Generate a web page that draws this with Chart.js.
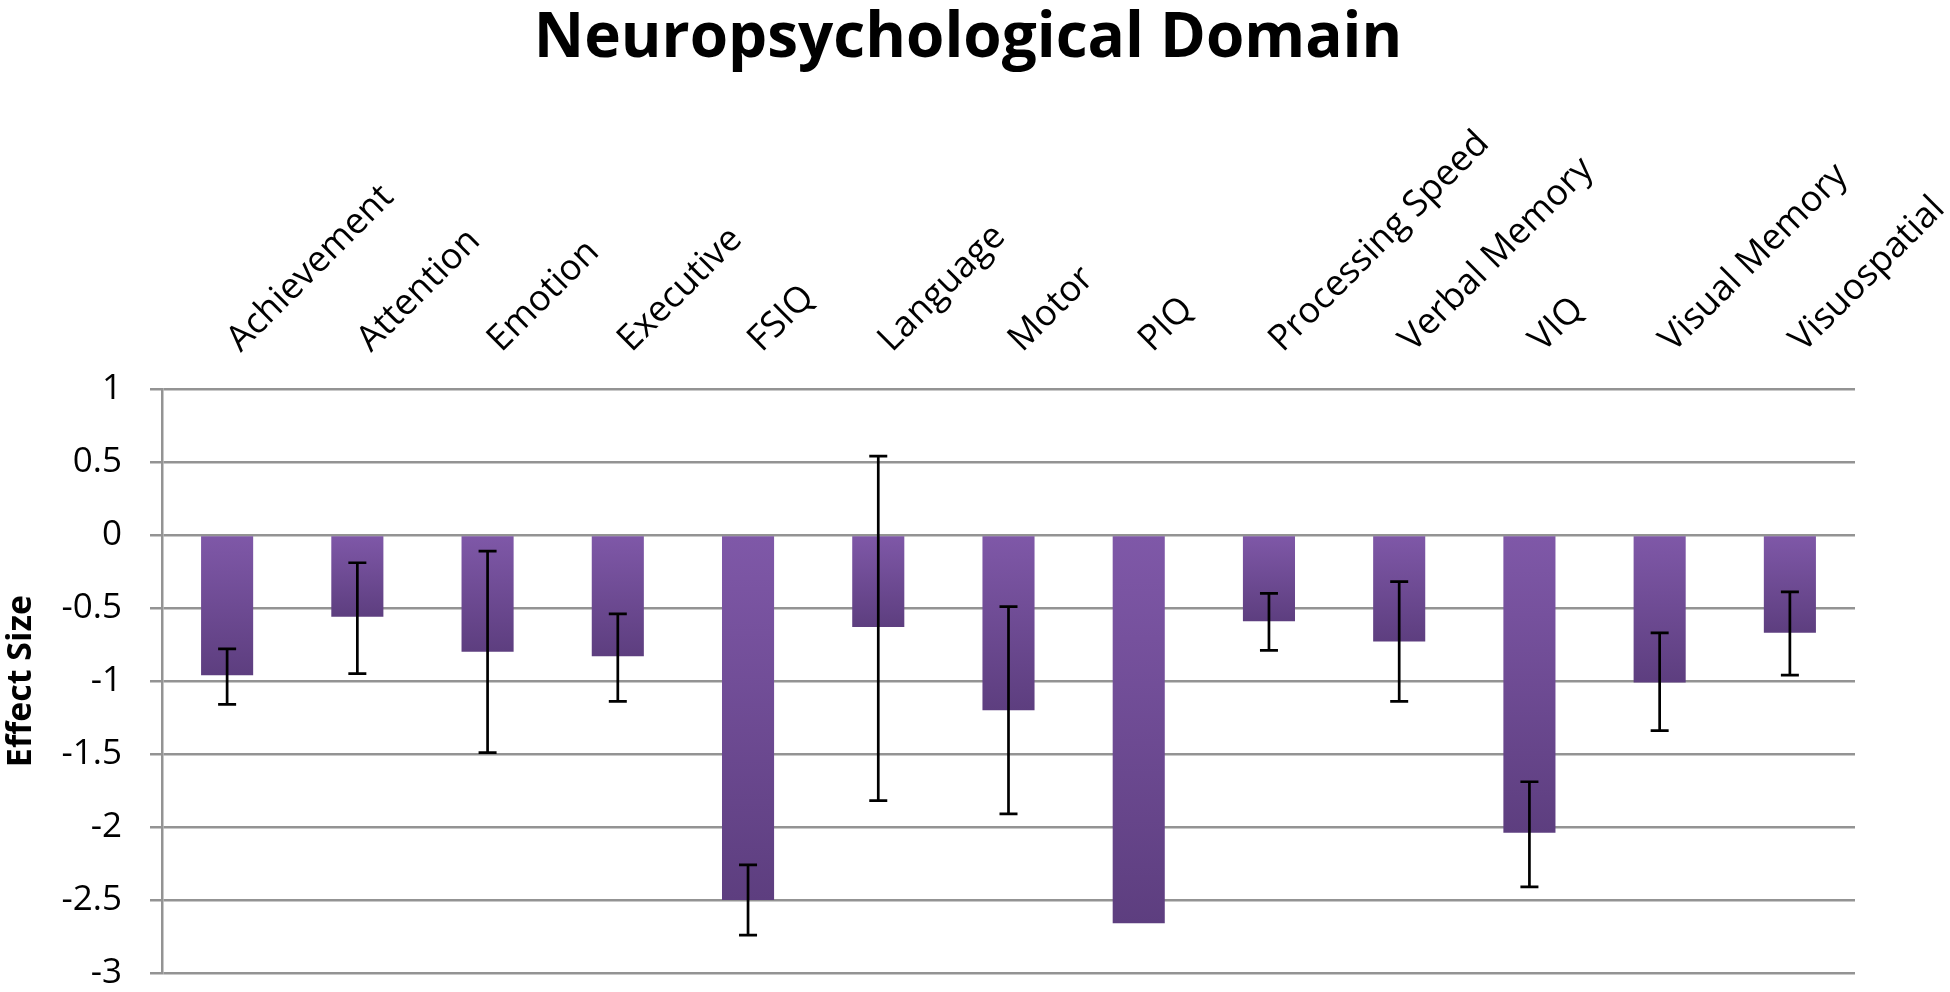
<!DOCTYPE html>
<html>
<head>
<meta charset="utf-8">
<title>Neuropsychological Domain</title>
<script src="https://cdn.jsdelivr.net/npm/chart.js@4.4.1/dist/chart.umd.min.js"></script>
<style>
  html, body { margin: 0; padding: 0; background: #fff; overflow: hidden; }
  #wrap { position: relative; width: 1950px; height: 992px; }
</style>
</head>
<body>
<div id="wrap"><canvas id="out"></canvas></div>
<script>
const chartTitle = "Neuropsychological Domain";
const categories = ["Achievement", "Attention", "Emotion", "Executive", "FSIQ", "Language", "Motor",
  "PIQ", "Processing Speed", "Verbal Memory", "VIQ", "Visual Memory", "Visuospatial"];
const effectSize = [-0.96, -0.56, -0.80, -0.83, -2.50, -0.63, -1.20, -2.66, -0.59, -0.73, -2.04, -1.01, -0.67];
// confidence interval ends (PIQ has none)
const ciLow  = [-1.16, -0.95, -1.49, -1.14, -2.74, -1.82, -1.91, null, -0.79, -1.14, -2.41, -1.34, -0.96];
const ciHigh = [-0.78, -0.19, -0.11, -0.54, -2.26, 0.54, -0.49, null, -0.40, -0.32, -1.69, -0.67, -0.39];

const gridGray = "#939393";

// each bar gets its own light-to-dark vertical gradient
function barFill(ctx) {
  const chart = ctx.chart;
  if (!chart.chartArea || ctx.dataIndex === undefined) return "#7e57a6";
  const y = chart.scales.y;
  const y0 = y.getPixelForValue(0);
  const y1 = y.getPixelForValue(effectSize[ctx.dataIndex]);
  const g = chart.ctx.createLinearGradient(0, y0, 0, y1 === y0 ? y0 + 1 : y1);
  g.addColorStop(0, "#7f58a8");
  g.addColorStop(1, "#5d3e7f");
  return g;
}

const errorBars = {
  id: "errorBars",
  afterDatasetsDraw(chart) {
    const meta = chart.getDatasetMeta(0);
    const y = chart.scales.y;
    const c = chart.ctx;
    c.save();
    c.strokeStyle = "#000";
    c.lineWidth = 2.7;
    for (let i = 0; i < meta.data.length; i++) {
      if (ciLow[i] === null) continue;
      const x = meta.data[i].x;
      const yl = y.getPixelForValue(ciLow[i]);
      const yh = y.getPixelForValue(ciHigh[i]);
      c.beginPath();
      c.moveTo(x, yl); c.lineTo(x, yh);
      c.moveTo(x - 9, yl); c.lineTo(x + 9, yl);
      c.moveTo(x - 9, yh); c.lineTo(x + 9, yh);
      c.stroke();
    }
    c.restore();
  }
};

const titleDraw = {
  id: "titleDraw",
  afterDraw(chart) {
    const c = chart.ctx;
    c.save();
    c.font = "bold 62px 'Open Sans'";
    c.fillStyle = "#000";
    c.textAlign = "center";
    c.textBaseline = "alphabetic";
    c.fillText(chartTitle, 968, 57);
    c.restore();
  }
};

function noPad(scale) {
  scale.paddingLeft = 0;
  scale.paddingRight = 0;
  scale.paddingTop = 0;
  scale.paddingBottom = 0;
}

new Chart(document.getElementById("out").getContext("2d"), {
  type: "bar",
  data: {
    labels: categories,
    datasets: [{
      label: "Effect Size",
      data: effectSize,
      backgroundColor: barFill,
      borderWidth: 0,
      barPercentage: 0.8,
      categoryPercentage: 0.5
    }]
  },
  options: {
    responsive: true,
    maintainAspectRatio: false,
    animation: false,
    layout: { padding: { top: 0, right: 95, bottom: 19, left: 0 } },
    plugins: {
      legend: { display: false },
      title: { display: false },
      tooltip: { enabled: false }
    },
    scales: {
      x: {
        position: "top",
        grid: { display: false, drawTicks: false },
        border: { display: false },
        ticks: {
          autoSkip: false,
          minRotation: 45,
          maxRotation: 45,
          padding: 28,
          labelOffset: 37,
          color: "#000",
          font: { family: "'Open Sans'", size: 36 }
        },
        afterFit(scale) { scale.height = 389; noPad(scale); }
      },
      y: {
        min: -3,
        max: 1,
        ticks: {
          stepSize: 0.5,
          padding: 28,
          color: "#000",
          font: { family: "'Open Sans'", size: 35 },
          callback: (v) => String(v)
        },
        grid: { color: gridGray, lineWidth: 2.5, tickLength: 12, drawTicks: true },
        border: { display: true, color: gridGray, width: 2.5 },
        title: {
          display: true,
          text: "Effect Size",
          color: "#000",
          padding: { top: 1, bottom: 0 },
          font: { family: "'Open Sans'", size: 34, weight: "bold" }
        },
        afterFit(scale) { scale.width = 162; noPad(scale); }
      }
    }
  },
  plugins: [errorBars, titleDraw]
});
</script>
</body>
</html>
